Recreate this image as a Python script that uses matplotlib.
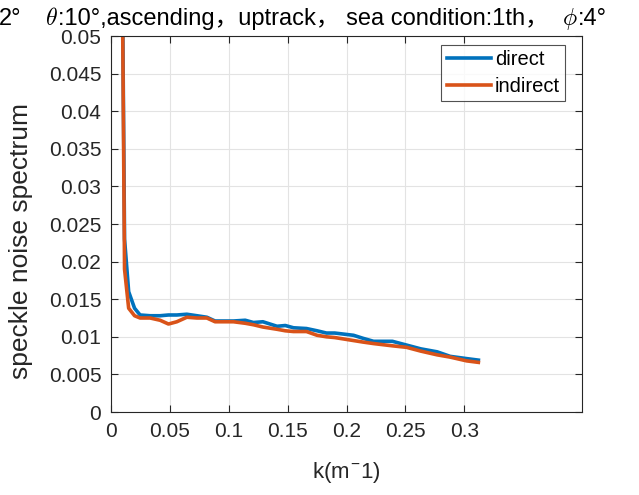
import numpy as np
import matplotlib.pyplot as plt

plt.rcParams['font.family'] = ['Liberation Sans', 'Noto Sans CJK SC', 'DejaVu Sans']
plt.rcParams['mathtext.fontset'] = 'cm'

# wavenumber samples (m^-1)
k = [0.0085, 0.0115, 0.0150, 0.0200, 0.0247, 0.0332, 0.0417, 0.0488, 0.0559,
     0.0644, 0.0730, 0.0814, 0.0884, 0.0960, 0.1040, 0.1140, 0.1210, 0.1290,
     0.1410, 0.1480, 0.1550, 0.1660, 0.1750, 0.1830, 0.1900, 0.2060, 0.2140,
     0.2230, 0.2390, 0.2510, 0.2630, 0.2770, 0.2880, 0.3020, 0.3120]

direct = [0.0800, 0.0230, 0.0160, 0.0138, 0.0129, 0.0128, 0.0128, 0.0129, 0.0129,
          0.0130, 0.0128, 0.0126, 0.0121, 0.0121, 0.0121, 0.0122, 0.0119, 0.0120,
          0.0114, 0.0115, 0.0112, 0.0111, 0.0108, 0.0105, 0.0105, 0.0102, 0.0098,
          0.0094, 0.0094, 0.0089, 0.0084, 0.0080, 0.0074, 0.0071, 0.0069]

indirect = [0.0800, 0.0190, 0.0138, 0.0128, 0.0125, 0.0125, 0.0122, 0.0117, 0.0120,
            0.0126, 0.0125, 0.0125, 0.0120, 0.0120, 0.0120, 0.0118, 0.0116, 0.0113,
            0.0110, 0.0108, 0.0107, 0.0107, 0.0102, 0.0100, 0.0099, 0.0095, 0.0093,
            0.0091, 0.0088, 0.0086, 0.0081, 0.0076, 0.0073, 0.0068, 0.0066]

xticks = [0, 0.05, 0.1, 0.15, 0.2, 0.25, 0.3]
xticklabels = ['0', '0.05', '0.1', '0.15', '0.2', '0.25', '0.3']
yticks = np.arange(0, 0.0501, 0.005)
yticklabels = ['0', '0.005', '0.01', '0.015', '0.02', '0.025', '0.03',
               '0.035', '0.04', '0.045', '0.05']

# title is wider than the figure, only this part shows
title_head = '2°'
title_parts = [r'$\theta$', ':10°,ascending，uptrack， sea condition:1th，  ',
               r'$\phi$', ':4°']

fig = plt.figure(figsize=(6.39, 4.95), dpi=100)
ax = fig.add_axes([111/639, 1-412/495, 471/639, 376/495])

ax.plot(k, direct, color='#0072BD', lw=2.6, label='direct')
ax.plot(k, indirect, color='#D95319', lw=2.6, label='indirect')

ax.set_xlim(0, 0.4)
ax.set_ylim(0, 0.05)
ax.set_xticks(xticks)
ax.set_xticklabels(xticklabels)
ax.set_yticks(yticks)
ax.set_yticklabels(yticklabels)
ax.tick_params(direction='in', top=True, right=True, labelsize=15, length=5,
               width=0.8, colors='#262626', pad=7)
ax.grid(True, color='#e3e3e3', lw=0.8)
for s in ax.spines.values():
    s.set_color('#262626')
    s.set_linewidth(0.8)

ax.set_xlabel(r'k(m$^{\mathregular{-}}$1)', fontsize=16, color='#262626', labelpad=14)
ax.set_ylabel('speckle noise spectrum', fontsize=19, color='#262626')
ax.yaxis.set_label_coords(33/639, 1-241/495, transform=fig.transFigure)

leg = ax.legend(loc='upper right', fontsize=14.5, frameon=True, fancybox=False,
                edgecolor='#262626', handlelength=2.2, handletextpad=0.2,
                borderpad=0.25, labelspacing=0.4, borderaxespad=0,
                bbox_to_anchor=(565/639, 1-45/495), bbox_transform=fig.transFigure)
leg.get_frame().set_linewidth(0.8)

# place title pieces one after another on a shared baseline
renderer = fig.canvas.get_renderer()
fig.text(-1/639, 1-25/495, title_head, fontsize=17, color='black', va='baseline')
x = 45
for part in title_parts:
    t = fig.text(x/639, 1-25/495, part, fontsize=17, color='black', va='baseline')
    x += t.get_window_extent(renderer).width

fig.savefig('out.png', dpi=100)
